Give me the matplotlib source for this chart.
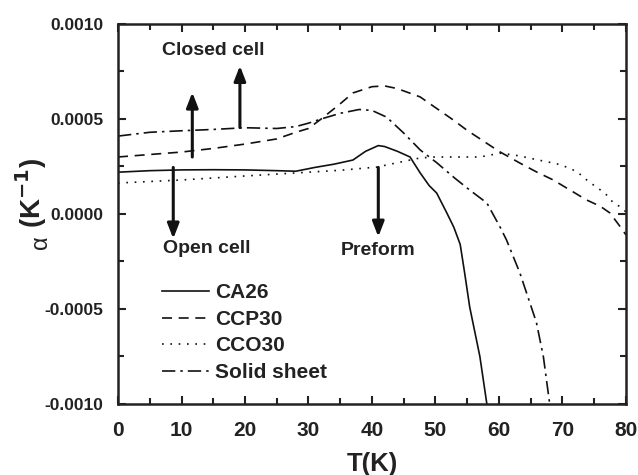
import matplotlib
matplotlib.use("Agg")
import matplotlib.pyplot as plt

plt.rcParams['font.family'] = ['Liberation Sans', 'DejaVu Sans']

# ---- data ----
T_ca26 = [0, 5, 10, 15, 20, 25, 28, 31, 34, 37, 39, 41, 42, 44, 46, 47.6, 49, 50.2, 51.8, 52.9, 53.9, 54.6, 55.4, 57, 58.1]
a_ca26 = [0.00022, 0.000228, 0.000232, 0.000233, 0.000232, 0.000228, 0.000225, 0.000245, 0.000262, 0.000284,
          0.00033, 0.00036, 0.000355, 0.00033, 0.0003, 0.000216, 0.00015, 0.00011, 0.000005, -0.00007,
          -0.00016, -0.00031, -0.00049, -0.00075, -0.001]

T_ccp30 = [0, 5, 10, 15, 20, 25, 28, 30, 32, 35, 37, 40, 42, 44, 47.6, 50, 52.8, 55, 58, 60, 63.3, 66,
           68.5, 71, 73.8, 76, 77.5, 79.4, 80]
a_ccp30 = [0.0003, 0.000313, 0.000326, 0.000345, 0.000368, 0.000395, 0.00043, 0.00045, 0.0005, 0.00058,
           0.000637, 0.00067, 0.000674, 0.00066, 0.000616, 0.00056, 0.000495, 0.00044, 0.000374, 0.00033,
           0.000268, 0.00022, 0.00018, 0.00013, 0.000074, 0.00004, 0.000005, -0.00008, -0.00011]

T_cco30 = [0, 10, 20, 30, 35, 40.8, 44, 47.6, 50, 52.8, 57, 58.6, 60.2, 62.5, 64, 66.8, 68.3, 69.6, 71.2,
           72.4, 73.8, 75.4, 76.7, 78, 79.5, 80]
a_cco30 = [0.000163, 0.000179, 0.0002, 0.00022, 0.00023, 0.000247, 0.00027, 0.000295, 0.0003, 0.0003,
           0.0003, 0.00031, 0.00032, 0.00031, 0.0003, 0.00028, 0.00027, 0.00026, 0.00024, 0.00022,
           0.00018, 0.00014, 0.00011, 0.00006, 0.00003, 0.00001]

T_solid = [0, 5, 10, 15, 20, 25, 28, 30, 32, 35, 38, 40, 42.3, 45, 47.6, 50.2, 53, 55.4, 58.1, 60.2,
           61.2, 63.3, 65.9, 67, 68]
a_solid = [0.00041, 0.00043, 0.000438, 0.000445, 0.000454, 0.00045, 0.00046, 0.000478, 0.0005, 0.00053,
           0.00055, 0.000545, 0.00051, 0.000426, 0.000337, 0.00027, 0.00019, 0.000126, 0.000058, -0.00007,
           -0.000137, -0.00031, -0.00057, -0.00075, -0.001]

series_labels = ['CA26', 'CCP30', 'CCO30', 'Solid sheet']

# arrows: (x, y_start, y_end)
arrows = [(11.7, 0.0003, 0.00064), (19.2, 0.000455, 0.00078),
          (8.7, 0.000245, -0.00013), (41.0, 0.000245, -0.00012)]
annotations = [(15.0, 0.00086, 'Closed cell'), (13.9, -0.00018, 'Open cell'), (40.9, -0.00019, 'Preform')]

xticks = [0, 10, 20, 30, 40, 50, 60, 70, 80]
yticks = [-0.0010, -0.0005, 0.0, 0.0005, 0.0010]
ytick_labels = ['-0.0010', '-0.0005', '0.0000', '0.0005', '0.0010']

# ---- plot ----
fig = plt.figure(figsize=(6.38, 4.75), dpi=100)
ax = fig.add_axes([0.185, 0.1495, 0.796, 0.80])

lw = 1.2
ax.plot(T_ca26, a_ca26, color='#111111', lw=lw, ls='-', label=series_labels[0])
ax.plot(T_ccp30, a_ccp30, color='#111111', lw=lw, ls=(0, (6, 4)), label=series_labels[1])
ax.plot(T_cco30, a_cco30, color='#111111', lw=lw, ls=(0, (1, 4)), label=series_labels[2])
ax.plot(T_solid, a_solid, color='#111111', lw=lw, ls=(0, (8, 3, 1.5, 3)), label=series_labels[3])

for x, y0, y1 in arrows:
    ax.annotate('', xy=(x, y1), xytext=(x, y0),
                arrowprops=dict(arrowstyle='-|>,head_length=0.9,head_width=0.35', color='#111111', lw=2.2,
                                shrinkA=0, shrinkB=0))

for x, y, s in annotations:
    ax.text(x, y, s, ha='center', va='center', fontsize=14, fontweight='bold', color='#222222')

ax.set_xlim(0, 80)
ax.set_ylim(-0.001, 0.001)
ax.set_xticks(xticks)
ax.set_xticks(range(5, 80, 10), minor=True)
ax.set_yticks(yticks)
ax.set_yticklabels(ytick_labels)
ax.set_yticks([-0.00075, -0.00025, 0.00025, 0.00075], minor=True)
ax.tick_params(which='both', direction='in', top=True, right=True, width=1.5, color='#222222')
ax.tick_params(which='major', length=6)
ax.tick_params(which='minor', length=4)
ax.tick_params(axis='x', which='major', labelsize=15, pad=12)
ax.tick_params(axis='y', which='major', labelsize=12.5, pad=10.5)
for lab in ax.get_xticklabels() + ax.get_yticklabels():
    lab.set_fontweight('bold')
    lab.set_color('#222222')
for sp in ax.spines.values():
    sp.set_linewidth(1.8)
    sp.set_color('#222222')

ax.set_xlabel('T(K)', fontsize=18.5, fontweight='bold', color='#222222', labelpad=9)
fig.text(0.049, 0.594, r'(K$^{\mathbf{-1}}$)', rotation=90, ha='center', va='center',
         fontsize=20, fontweight='bold', color='#222222')
fig.text(0.064, 0.491, 'α', rotation=90, ha='center', va='center',
         fontsize=17, fontweight='normal', color='#222222')

leg = ax.legend(loc='lower left', bbox_to_anchor=(0.058, 0.02), frameon=False, fontsize=15,
                handlelength=2.25, handletextpad=0.3, labelspacing=0.36, borderaxespad=0.3)
for t in leg.get_texts():
    t.set_fontweight('bold')
    t.set_color('#222222')

fig.savefig('out.png', dpi=100)
